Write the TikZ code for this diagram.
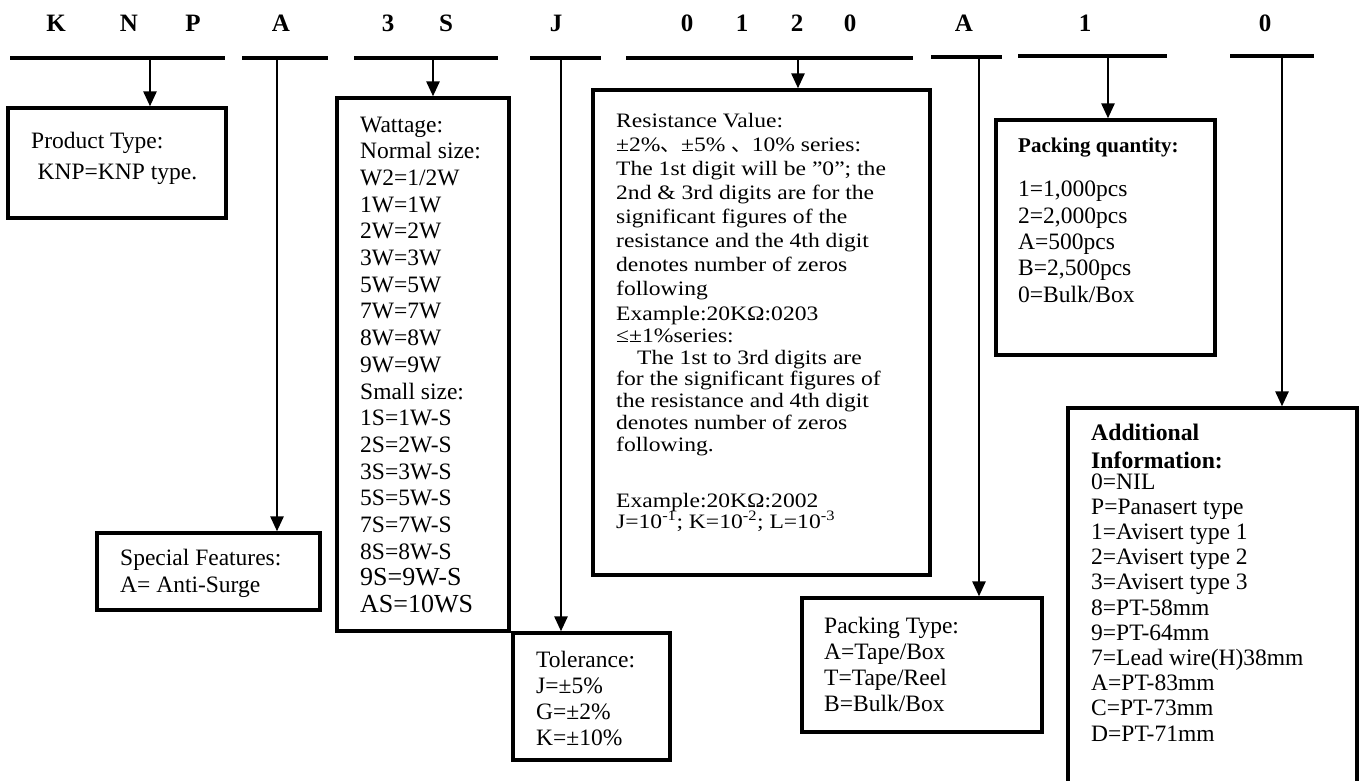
\documentclass[tikz,border=0pt]{standalone}
\usepackage{fontspec}
\setmainfont{Liberation Serif}
\newfontfamily\resfont{Liberation Serif}[FakeStretch=1.15]
\newfontfamily\cjkfont{Noto Sans CJK SC}
\usetikzlibrary{arrows.meta}
\setlength{\lineskiplimit}{-100pt}
\begin{document}
\begin{tikzpicture}[x=1pt,y=-1pt,
  box/.style={draw, line width=3.3pt, rectangle, inner sep=0pt},
  bar/.style={fill=black, rectangle, inner sep=0pt, minimum height=4pt},
  code/.style={font=\fontsize{25}{25}\selectfont\bfseries, inner sep=0pt, anchor=base},
  txt/.style={align=left, anchor=base west, inner sep=0pt},
  conn/.style={line width=2.7pt, -{Triangle[length=15pt,width=13pt]}}
]
\fill[white] (0,0) rectangle (1362,781);
\useasboundingbox (0,0) rectangle (1362,781);

% code letters
\node[code] (l1) at (56,32) {K};
\node[code] (l2) at (129,32) {N};
\node[code] (l3) at (193,32) {P};
\node[code] (l4) at (281,32) {A};
\node[code] (l5) at (388,32) {3};
\node[code] (l6) at (446,32) {S};
\node[code] (l7) at (556,32) {J};
\node[code] (l8) at (687,32) {0};
\node[code] (l9) at (742,32) {1};
\node[code] (l10) at (797,32) {2};
\node[code] (l11) at (850,32) {0};
\node[code] (l12) at (964,32) {A};
\node[code] (l13) at (1085,32) {1};
\node[code] (l14) at (1265,32) {0};

% bars
\node[bar, minimum width=215pt] (b1) at (117.5,58) {};
\node[bar, minimum width=86pt] (b2) at (285,58) {};
\node[bar, minimum width=144pt] (b3) at (426,58) {};
\node[bar, minimum width=71pt] (b4) at (565.5,58) {};
\node[bar, minimum width=287pt] (b5) at (769.5,58) {};
\node[bar, minimum width=71pt] (b6) at (966.5,57) {};
\node[bar, minimum width=149pt] (b7) at (1092.5,56) {};
\node[bar, minimum width=84pt] (b8) at (1272,56) {};

% boxes
\node[box, minimum width=218pt, minimum height=110pt] (prod) at (117,163) {};
\node[box, minimum width=223pt, minimum height=77pt] (spec) at (208.5,571.5) {};
\node[box, minimum width=172pt, minimum height=533pt] (watt) at (423,364.5) {};
\node[box, minimum width=157pt, minimum height=127pt] (tol) at (591.5,696.5) {};
\node[box, minimum width=337pt, minimum height=485pt] (res) at (761.5,332.5) {};
\node[box, minimum width=219pt, minimum height=235pt] (pq) at (1105.5,237.5) {};
\node[box, minimum width=240pt, minimum height=134pt] (ptype) at (922,665) {};
\node[box, minimum width=289pt, minimum height=377pt] (addl) at (1212.5,596.5) {};

% connectors
\coordinate (s1) at (150,58);
\coordinate (s2) at (277,58);
\coordinate (s3) at (433,58);
\coordinate (s4) at (561,58);
\coordinate (s5) at (798,58);
\coordinate (s6) at (979,57);
\coordinate (s7) at (1108,56);
\coordinate (s8) at (1282,56);
\draw[conn] (s1) -- (s1 |- prod.north);
\draw[conn] (s2) -- (s2 |- spec.north);
\draw[conn] (s3) -- (s3 |- watt.north);
\draw[conn] (s4) -- (s4 |- tol.north);
\draw[conn] (s5) -- (s5 |- res.north);
\draw[conn] (s6) -- (s6 |- ptype.north);
\draw[conn] (s7) -- (s7 |- pq.north);
\draw[conn] (s8) -- (s8 |- addl.north);

% texts (anchored at the baseline of their last line)
\node[txt, font={\fontsize{23.5}{31}\selectfont}] (tprod) at (31,179)
  {Product Type:\\\hspace*{6.5pt}KNP=KNP type.};
\node[txt, font={\fontsize{23.5}{27}\selectfont}] (tspec) at (120,592)
  {Special Features:\\A= Anti-Surge};
\node[txt, font={\fontsize{23.5}{26.7}\selectfont}] (twatt) at (360,612.6)
  {Wattage:\\Normal size:\\W2=1/2W\\1W=1W\\2W=2W\\3W=3W\\5W=5W\\7W=7W\\8W=8W\\9W=9W\\Small size:\\1S=1W-S\\2S=2W-S\\3S=3W-S\\5S=5W-S\\7S=7W-S\\8S=8W-S\\\fontsize{26}{26.7}\selectfont 9S=9W-S\\\fontsize{26}{26.7}\selectfont AS=10WS};
\node[txt, font={\fontsize{23.5}{26}\selectfont}] (ttol) at (536,745)
  {Tolerance:\\J=±5\%\\G=±2\%\\K=±10\%};
\node[txt, font={\resfont\fontsize{20.5}{24}\selectfont}] (tres1) at (616,295)
  {Resistance Value:\\±2\%{\cjkfont 、}±5\% {\cjkfont 、}10\% series:\\The 1st digit will be ”0”; the\\2nd \& 3rd digits are for the\\significant figures of the\\resistance and the 4th digit\\denotes number of zeros\\following};
\node[txt, font={\resfont\fontsize{20.5}{21.7}\selectfont}] (tres2) at (616,451)
  {Example:20KΩ:0203\\≤±1\%series:\\\hspace*{21pt}The 1st to 3rd digits are\\for the significant figures of\\the resistance and 4th digit\\denotes number of zeros\\following.};
\node[txt, font={\resfont\fontsize{20.5}{21}\selectfont}] (tres3) at (616,528)
  {Example:20KΩ:2002\\J=10\textsuperscript{-1}; K=10\textsuperscript{-2}; L=10\textsuperscript{-3}};
\node[txt, font={\fontsize{21}{21}\selectfont\bfseries}] (tpq1) at (1018,153) {Packing quantity:};
\node[txt, font={\fontsize{23.5}{26.3}\selectfont}] (tpq2) at (1018,302)
  {1=1,000pcs\\2=2,000pcs\\A=500pcs\\B=2,500pcs\\0=Bulk/Box};
\node[txt, font={\fontsize{23.5}{26}\selectfont}] (tptype) at (824,711)
  {Packing Type:\\A=Tape/Box\\T=Tape/Reel\\B=Bulk/Box};
\node[txt, font={\fontsize{23.7}{28}\selectfont\bfseries}] (tadd1) at (1091,468)
  {Additional\\Information:};
\node[txt, font={\fontsize{23.5}{25.2}\selectfont}] (tadd2) at (1091,741)
  {0=NIL\\P=Panasert type\\1=Avisert type 1\\2=Avisert type 2\\3=Avisert type 3\\8=PT-58mm\\9=PT-64mm\\7=Lead wire(H)38mm\\A=PT-83mm\\C=PT-73mm\\D=PT-71mm};
\end{tikzpicture}
\end{document}
